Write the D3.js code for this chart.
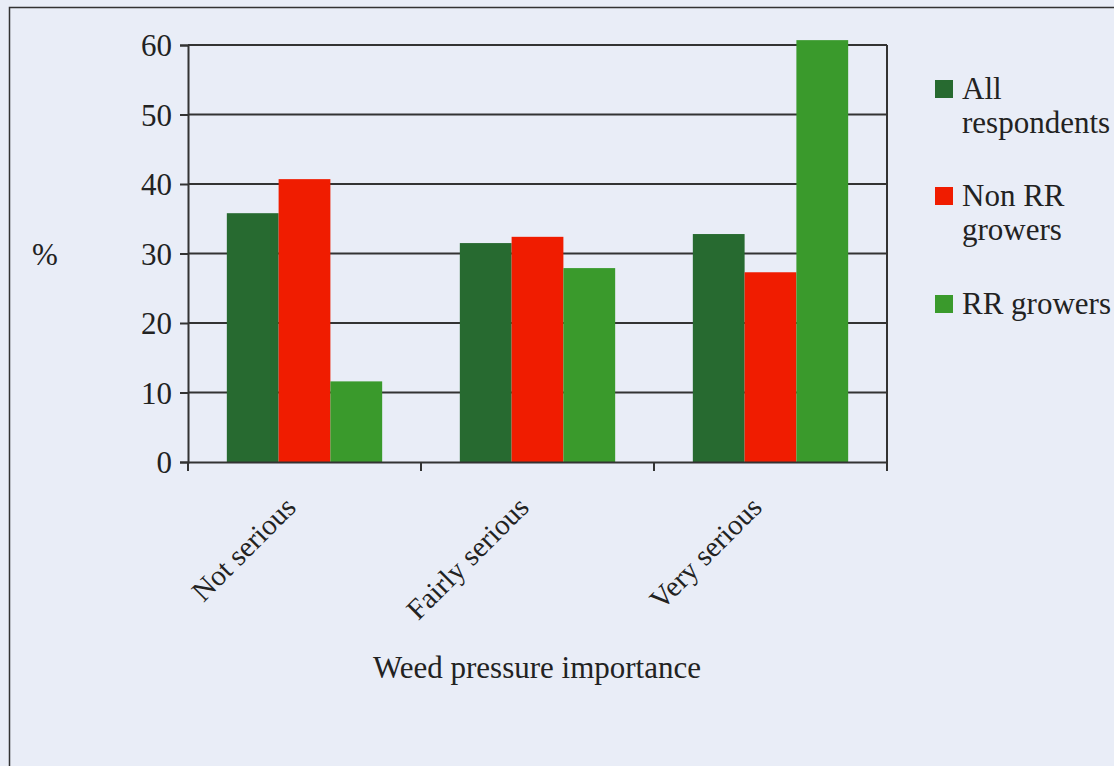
<!DOCTYPE html>
<html><head><meta charset="utf-8">
<script src="https://cdn.jsdelivr.net/npm/d3@7"></script>
<style>html,body{margin:0;padding:0;background:#e9edf7;}svg{display:block;}
text{font-family:"Liberation Serif","DejaVu Serif","Times New Roman",serif;}</style>
</head><body>
<svg id="c" width="1114" height="766"></svg>
<script>
const categories = ["Not serious", "Fairly serious", "Very serious"];
const seriesNames = ["All respondents", "Non RR growers", "RR growers"];
const allRespondents = [35.8, 31.5, 32.8];
const nonRRGrowers = [40.7, 32.4, 27.3];
const rrGrowers = [11.6, 27.9, 60.7];
const yTicks = [0, 10, 20, 30, 40, 50, 60];
const seriesColors = ["#276a30", "#f01c00", "#3a9a2c"];

(function () {
const series = [allRespondents, nonRRGrowers, rrGrowers];
const svg = d3.select("#c");
const font = '"Liberation Serif","DejaVu Serif","Times New Roman",serif';
const W = 1114, H = 766;
const fs = 31;

svg.append("rect").attr("x", 0).attr("y", 0).attr("width", W).attr("height", H).attr("fill", "#e9edf7");
svg.append("rect").attr("x", 9.5).attr("y", 7.5).attr("width", W + 10).attr("height", H + 10)
  .attr("fill", "none").attr("stroke", "#333").attr("stroke-width", 1.5);

const pL = 188, pR = 887, pT = 45, pB = 462;
const x = d3.scaleBand().domain(categories).range([pL, pR]).paddingInner(0).paddingOuter(0);
const xs = d3.scaleBand().domain(seriesNames).range([0, x.bandwidth()]).paddingInner(0).paddingOuter(0.75);
const y = d3.scaleLinear().domain([0, 60]).range([pB, pT]);

svg.append("g").selectAll("line").data(yTicks.filter(t => t > 0)).join("line")
  .attr("x1", pL).attr("x2", pR).attr("y1", d => y(d)).attr("y2", d => y(d))
  .attr("stroke", "#333").attr("stroke-width", 2);
svg.append("line").attr("x1", pR).attr("x2", pR).attr("y1", pT).attr("y2", pB + 8)
  .attr("stroke", "#333").attr("stroke-width", 2);

const g = svg.append("g");
categories.forEach((c, ci) => {
  series.forEach((s, si) => {
    g.append("rect")
      .attr("x", x(c) + xs(seriesNames[si]))
      .attr("y", y(s[ci]))
      .attr("width", xs.bandwidth())
      .attr("height", y(0) - y(s[ci]))
      .attr("fill", seriesColors[si]);
  });
});

const yAxis = d3.axisLeft(y).tickValues(yTicks).tickSize(8).tickPadding(8);
const ya = svg.append("g").attr("transform", `translate(${pL},0)`).call(yAxis);
ya.attr("font-family", null).attr("font-size", null);
ya.select(".domain").attr("stroke", "#333").attr("stroke-width", 2);
ya.selectAll(".tick line").attr("stroke", "#333").attr("stroke-width", 2);
ya.selectAll("text").style("font-family", font).style("font-size", fs + "px").attr("fill", "#222").attr("dx", "0").attr("dy", "0.35em");

const xAxis = d3.axisBottom(x).tickSize(0).tickFormat("");
const xa = svg.append("g").attr("transform", `translate(0,${pB})`).call(xAxis);
xa.select(".domain").attr("stroke", "#333").attr("stroke-width", 2);
const bounds = [pL].concat(categories.map(c => x(c) + x.bandwidth()));
xa.selectAll("line.b").data(bounds).join("line").attr("class", "b")
  .attr("x1", d => d).attr("x2", d => d).attr("y1", 0).attr("y2", 9)
  .attr("stroke", "#333").attr("stroke-width", 2);
svg.append("g").selectAll("text").data(categories).join("text")
  .attr("transform", d => `translate(${x(d) + x.bandwidth() / 2 - 7},${pB + 47}) rotate(-45)`)
  .attr("text-anchor", "end")
  .style("font-family", font).style("font-size", "29px").attr("fill", "#222")
  .text(d => d);

svg.append("text").attr("x", 537).attr("y", 678).attr("text-anchor", "middle")
  .style("font-family", font).style("font-size", fs + "px").attr("fill", "#222").text("Weed pressure importance");
svg.append("text").attr("x", 45).attr("y", 265).attr("text-anchor", "middle")
  .style("font-family", font).style("font-size", fs + "px").attr("fill", "#222").text("%");

const legendLines = [["All", "respondents"], ["Non RR", "growers"], ["RR growers"]];
const legendY = [80, 187, 295];
const lg = svg.append("g");
seriesNames.forEach((n, i) => {
  lg.append("rect").attr("x", 935).attr("y", legendY[i]).attr("width", 18).attr("height", 18).attr("fill", seriesColors[i]);
  legendLines[i].forEach((t, j) => {
    lg.append("text").attr("x", 962).attr("y", legendY[i] + 19 + j * 34)
      .style("font-family", font).style("font-size", fs + "px").attr("fill", "#222").text(t);
  });
});
})();
</script>
</body></html>
